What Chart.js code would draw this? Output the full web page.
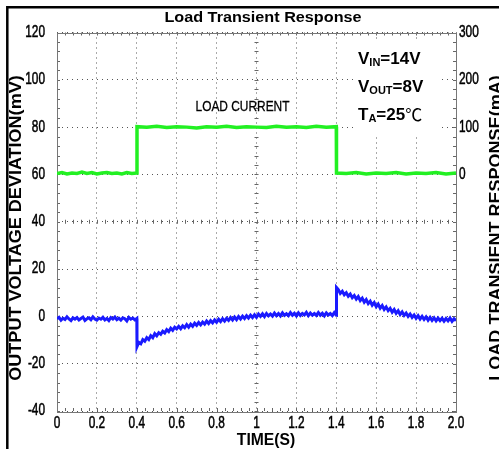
<!DOCTYPE html>
<html lang="en">
<head>
<meta charset="UTF-8">
<title>Load Transient Response</title>
<script src="https://cdn.jsdelivr.net/npm/chart.js"></script>
<style>
    html, body { margin: 0; padding: 0; background: #fff; }
    .chart-box { width: 499px; height: 449px; }
</style>
</head>
<body>
<div class="chart-box"><canvas id="ltr" width="499" height="449"></canvas></div>
<script>
// axis ticks
const timeTicks = [0, 0.2, 0.4, 0.6, 0.8, 1.0, 1.2, 1.4, 1.6, 1.8, 2.0];
const timeLabels = ['0', '0.2', '0.4', '0.6', '0.8', '1', '1.2', '1.4', '1.6', '1.8', '2.0'];
const mvTicks = [-40, -20, 0, 20, 40, 60, 80, 100, 120];
const maTicks = [0, 100, 200, 300];

// output voltage deviation (mV), blue trace
const outTime = [
    0.00, 0.01, 0.02, 0.03, 0.04, 0.05, 0.06, 0.07, 0.08, 0.09, 0.10, 0.11, 0.12, 0.13, 0.14, 0.15, 0.16, 0.17, 0.18, 0.19,
    0.20, 0.21, 0.22, 0.23, 0.24, 0.25, 0.26, 0.27, 0.28, 0.29, 0.30, 0.31, 0.32, 0.33, 0.34, 0.35, 0.36, 0.37, 0.38, 0.39,
    0.40, 0.401, 0.41, 0.42, 0.43, 0.44, 0.45, 0.46, 0.47, 0.48, 0.49, 0.50, 0.51, 0.52, 0.53, 0.54, 0.55, 0.56, 0.57, 0.58, 0.59,
    0.60, 0.61, 0.62, 0.63, 0.64, 0.65, 0.66, 0.67, 0.68, 0.69, 0.70, 0.71, 0.72, 0.73, 0.74, 0.75, 0.76, 0.77, 0.78, 0.79,
    0.80, 0.81, 0.82, 0.83, 0.84, 0.85, 0.86, 0.87, 0.88, 0.89, 0.90, 0.91, 0.92, 0.93, 0.94, 0.95, 0.96, 0.97, 0.98, 0.99,
    1.00, 1.01, 1.02, 1.03, 1.04, 1.05, 1.06, 1.07, 1.08, 1.09, 1.10, 1.11, 1.12, 1.13, 1.14, 1.15, 1.16, 1.17, 1.18, 1.19,
    1.20, 1.21, 1.22, 1.23, 1.24, 1.25, 1.26, 1.27, 1.28, 1.29, 1.30, 1.31, 1.32, 1.33, 1.34, 1.35, 1.36, 1.37, 1.38, 1.39,
    1.40, 1.401, 1.41, 1.42, 1.43, 1.44, 1.45, 1.46, 1.47, 1.48, 1.49, 1.50, 1.51, 1.52, 1.53, 1.54, 1.55, 1.56, 1.57, 1.58, 1.59,
    1.60, 1.61, 1.62, 1.63, 1.64, 1.65, 1.66, 1.67, 1.68, 1.69, 1.70, 1.71, 1.72, 1.73, 1.74, 1.75, 1.76, 1.77, 1.78, 1.79,
    1.80, 1.81, 1.82, 1.83, 1.84, 1.85, 1.86, 1.87, 1.88, 1.89, 1.90, 1.91, 1.92, 1.93, 1.94, 1.95, 1.96, 1.97, 1.98, 1.99,
    2.00];
const outMv = [
    -1.0, -0.4, -1.6, -0.8, -1.3, -0.2, -1.1, -1.8, -0.6, -1.2, -0.5, -1.5, -0.9, -0.3, -1.7, -1.0, -0.6, -1.4, -0.2, -1.1,
    -1.6, -0.7, -1.2, -0.4, -1.5, -0.9, -1.8, -0.5, -1.1, -0.3, -1.4, -0.8, -1.6, -0.6, -1.0, -1.9, -0.4, -1.2, -0.7, -1.5,
    -0.9, -12.8, -11.0, -11.6, -9.8, -10.5, -9.0, -9.8, -8.2, -9.0, -7.3, -8.2, -6.9, -7.6, -6.3, -7.0, -5.6, -6.4, -5.0, -5.9, -4.6,
    -5.3, -4.2, -5.2, -4.0, -4.8, -3.5, -4.6, -3.3, -4.2, -2.9, -3.8, -2.6, -3.6, -2.4, -3.3, -2.0, -3.0, -1.8, -2.7, -1.5,
    -2.5, -1.2, -2.2, -1.0, -2.0, -0.8, -1.7, -0.5, -1.5, -0.3, -1.4, -0.1, -1.1, 0.1, -0.9, 0.3, -0.7, 0.5, -0.5, 0.7,
    -0.4, 1.0, 0.0, 1.1, -0.1, 1.2, 0.2, 1.0, 0.1, 1.4, 0.3, 1.2, 0.2, 1.5, 0.4, 1.1, 0.3, 1.6, 0.5, 1.3,
    0.2, 1.5, 0.4, 1.2, 0.6, 1.7, 0.3, 1.4, 0.5, 1.2, 0.4, 1.6, 0.5, 1.3, 0.2, 1.5, 0.6, 1.2, 0.3, 1.6,
    0.5, 12.2, 11.3, 9.7, 10.6, 9.1, 10.0, 8.5, 9.4, 7.9, 8.8, 7.3, 8.4, 6.7, 7.7, 6.0, 7.1, 5.4, 6.4, 4.7, 5.8,
    4.1, 5.2, 3.5, 4.6, 2.9, 4.0, 2.4, 3.4, 1.8, 2.9, 1.3, 2.4, 0.8, 1.9, 0.4, 1.4, 0.0, 1.0, -0.4, 0.6,
    -0.8, 0.3, -1.1, 0.0, -1.3, -0.2, -1.6, -0.4, -1.7, -0.6, -1.9, -0.7, -1.8, -0.8, -2.0, -0.9, -1.9, -0.7, -2.1, -1.0,
    -1.8];

// load current (mA), green trace
const loadTime = [0, 0.025, 0.05, 0.075, 0.1, 0.125, 0.15, 0.175, 0.2, 0.225, 0.25, 0.275, 0.3, 0.325, 0.35, 0.375, 0.4,
    0.401, 0.45, 0.5, 0.55, 0.6, 0.65, 0.7, 0.75, 0.8, 0.85, 0.9, 0.95, 1.0, 1.05, 1.1, 1.15, 1.2, 1.25, 1.3, 1.35, 1.4,
    1.401, 1.45, 1.5, 1.55, 1.6, 1.65, 1.7, 1.75, 1.8, 1.85, 1.9, 1.95, 2.0];
const loadMa = [2, 4, 1, 3, 2, 5, 2, 4, 1, 3, 4, 2, 3, 1, 4, 2, 3,
    101, 100, 102, 99, 101, 100, 98, 101, 100, 102, 99, 101, 100, 99, 102, 100, 101, 99, 102, 100, 101,
    3, 2, 4, 1, 3, 2, 4, 1, 3, 2, 4, 1, 3];

const labelFont = "'Liberation Sans', Arial, sans-serif";

// extra drawing: frame, minor ticks, crosshair, tick labels, titles
const decor = {
    id: 'decor',
    beforeDraw(chart) {
        const ctx = chart.ctx;
        ctx.save();
        ctx.fillStyle = '#fff';
        ctx.fillRect(0, 0, chart.width, chart.height);
        ctx.strokeStyle = '#000';
        ctx.lineWidth = 2.5;
        ctx.beginPath();
        ctx.moveTo(7.3, chart.height);
        ctx.lineTo(7.3, 7.3);
        ctx.lineTo(chart.width, 7.3);
        ctx.stroke();
        ctx.restore();
    },
    beforeDatasetsDraw(chart) {
        const ctx = chart.ctx;
        const a = chart.chartArea;
        const sx = chart.scales.x, sy = chart.scales.y;
        ctx.save();
        // white box behind the condition text
        ctx.fillStyle = '#fff';
        ctx.fillRect(354, 40, 86, 94);

        ctx.strokeStyle = '#666';
        ctx.lineWidth = 1;
        ctx.beginPath();
        // minor ticks on the border and on the centre crosshair
        const xMid = sx.getPixelForValue(1.0), yMid = sy.getPixelForValue(40);
        for (let i = 0; i <= 50; i++) {
            const px = Math.round(sx.getPixelForValue(i * 0.04)) + 0.5;
            ctx.moveTo(px, a.top); ctx.lineTo(px, a.top + 3);
            ctx.moveTo(px, a.bottom); ctx.lineTo(px, a.bottom - 3);
            ctx.moveTo(px, yMid - 2); ctx.lineTo(px, yMid + 2);
        }
        for (let i = 0; i <= 40; i++) {
            const py = Math.round(sy.getPixelForValue(-40 + i * 4)) + 0.5;
            ctx.moveTo(a.left, py); ctx.lineTo(a.left + 3, py);
            ctx.moveTo(a.right, py); ctx.lineTo(a.right - 3, py);
            ctx.moveTo(xMid - 2, py); ctx.lineTo(xMid + 2, py);
        }
        ctx.stroke();
        // plot frame
        ctx.strokeStyle = '#777';
        ctx.strokeRect(Math.round(a.left) + 0.5, Math.round(a.top) + 0.5, Math.round(a.width), Math.round(a.height));
        ctx.restore();
    },
    afterDraw(chart) {
        const ctx = chart.ctx;
        const a = chart.chartArea;
        ctx.save();
        ctx.fillStyle = '#000';
        ctx.strokeStyle = '#000';
        ctx.textBaseline = 'middle';

        const stretched = (text, x, y, font, sx, rot, align, heavy) => {
            ctx.save();
            ctx.translate(x, y);
            if (rot) ctx.rotate(rot);
            ctx.scale(sx, 1);
            ctx.font = font;
            ctx.textAlign = align || 'center';
            ctx.fillText(text, 0, 0);
            if (heavy) { ctx.lineWidth = heavy; ctx.strokeText(text, 0, 0); }
            ctx.restore();
        };

        // tick labels (condensed, like the scope print)
        const tf = '16px ' + labelFont;
        chart.scales.y.ticks.forEach(t => {
            stretched(String(t.value), a.left - 12, chart.scales.y.getPixelForValue(t.value), tf, 0.74, 0, 'right', 0.5);
        });
        chart.scales.y2.ticks.forEach(t => {
            stretched(String(t.value), a.right + 3, chart.scales.y2.getPixelForValue(t.value), tf, 0.74, 0, 'left', 0.5);
        });
        chart.scales.x.ticks.forEach((t, i) => {
            stretched(timeLabels[i], chart.scales.x.getPixelForValue(t.value), a.bottom + 12.5, tf, 0.74, 0, 'center', 0.5);
        });

        stretched('Load Transient Response', 263, 17.5, 'bold 15px ' + labelFont, 1.08, 0);
        stretched('OUTPUT VOLTAGE DEVIATION(mV)', 16, 228, 'bold 17px ' + labelFont, 1.06, -Math.PI / 2);
        stretched('LOAD TRANSIENT RESPONSE(mA)', 496, 228, 'bold 17px ' + labelFont, 1.06, -Math.PI / 2);
        stretched('TIME(S)', 266, 441, 'bold 16px ' + labelFont, 0.98, 0);
        stretched('LOAD CURRENT', 242.5, 107.5, '14px ' + labelFont, 0.85, 0, 'center', 0.3);

        // conditions with subscripts
        const big = 'bold 17px ' + labelFont;
        const small = 'bold 11px ' + labelFont;
        const lines = [
            { y: 59, parts: [['V', big, 0], ['IN', small, 4], ['=14V', big, 0]] },
            { y: 87, parts: [['V', big, 0], ['OUT', small, 4], ['=8V', big, 0]] },
            { y: 115, parts: [['T', big, 0], ['A', small, 4], ['=25', big, 0], ['\u2103', "17px 'Noto Sans CJK SC', sans-serif", 0]] }
        ];
        ctx.textAlign = 'left';
        lines.forEach(line => {
            let x = 358;
            line.parts.forEach(([t, f, dy]) => {
                ctx.font = f;
                ctx.fillText(t, x, line.y + dy);
                x += ctx.measureText(t).width;
            });
        });
        ctx.restore();
    }
};

const toPoints = (xs, ys) => xs.map((x, i) => ({ x: x, y: ys[i] }));

new Chart(document.getElementById('ltr'), {
    type: 'line',
    data: {
        datasets: [{
            label: 'Output voltage deviation',
            data: toPoints(outTime, outMv),
            yAxisID: 'y',
            borderColor: '#1a1aff',
            borderWidth: 3,
            pointRadius: 0,
            tension: 0
        }, {
            label: 'Load current',
            data: toPoints(loadTime, loadMa),
            yAxisID: 'y2',
            borderColor: '#22f022',
            borderWidth: 3.5,
            pointRadius: 0,
            tension: 0
        }]
    },
    options: {
        responsive: false,
        animation: false,
        layout: { padding: { top: 32.5, left: 0, right: 0, bottom: 0 } },
        plugins: {
            legend: { display: false },
            tooltip: { enabled: false }
        },
        scales: {
            x: {
                type: 'linear',
                min: 0,
                max: 2,
                afterBuildTicks: s => { s.ticks = timeTicks.map(v => ({ value: v })); },
                afterFit: s => { s.height = 38; },
                ticks: { display: false },
                grid: { color: '#555', lineWidth: 1, drawTicks: false },
                border: { display: false, dash: [1, 4] }
            },
            y: {
                position: 'left',
                min: -40,
                max: 120,
                afterBuildTicks: s => { s.ticks = mvTicks.map(v => ({ value: v })); },
                afterFit: s => { s.width = 57; },
                ticks: { display: false },
                grid: { color: '#555', lineWidth: 1, drawTicks: false },
                border: { display: false, dash: [1, 4] }
            },
            y2: {
                position: 'right',
                min: -500,
                max: 300,
                afterBuildTicks: s => { s.ticks = maTicks.map(v => ({ value: v })); },
                afterFit: s => { s.width = 43; },
                ticks: { display: false },
                grid: { display: false, drawTicks: false },
                border: { display: false }
            }
        }
    },
    plugins: [decor]
});
</script>
</body>
</html>
